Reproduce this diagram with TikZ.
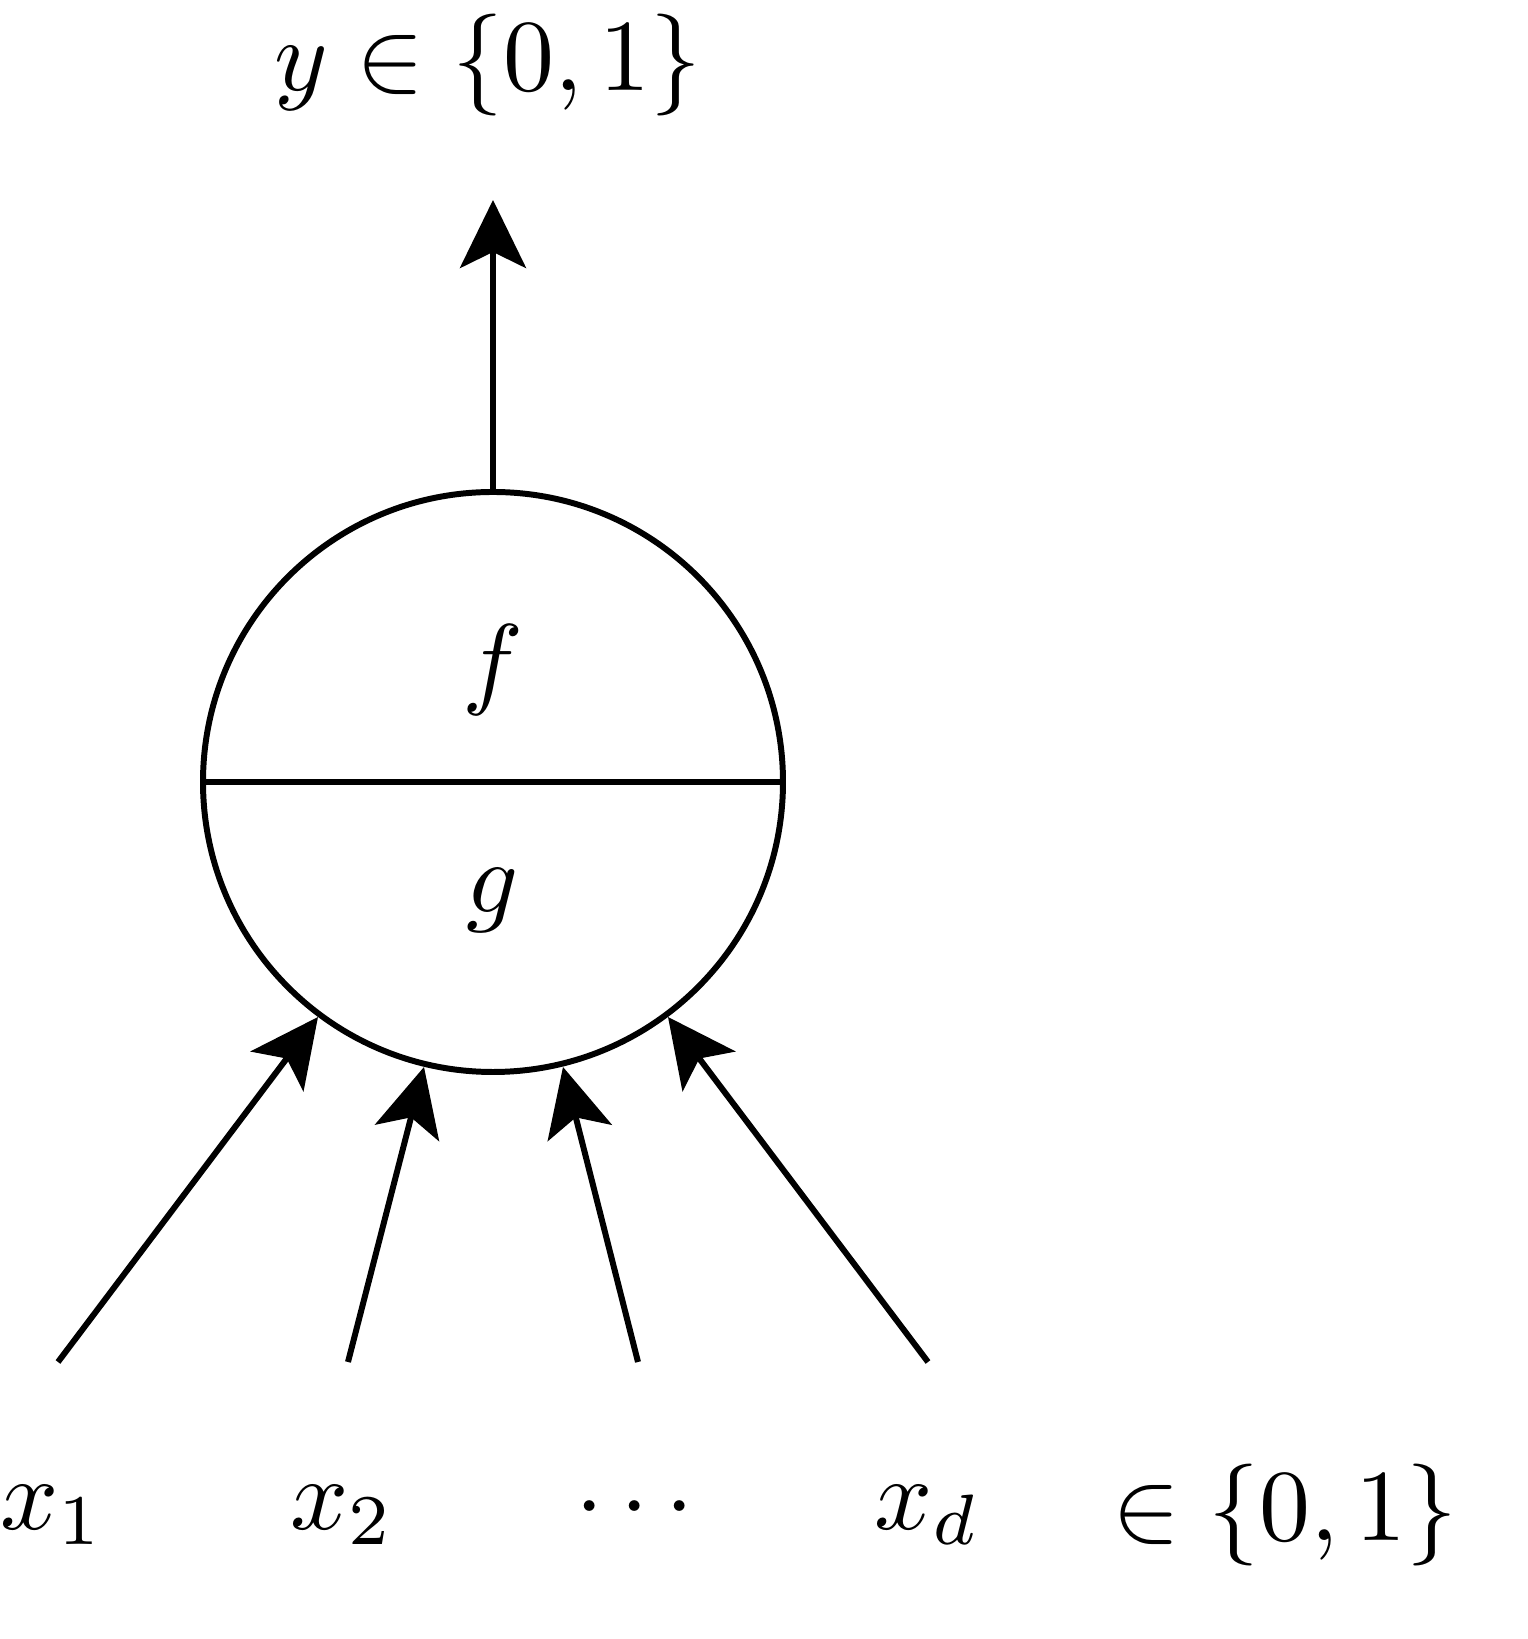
\documentclass[tikz,border=0pt]{standalone}
\usetikzlibrary{arrows.meta}
\begin{document}
\begin{tikzpicture}[line width=1.7pt,
  arr/.style={-{Stealth[length=6.8mm,width=6.6mm,inset=1.6mm]}},
  lbl/.style={scale=2.9}]
\useasboundingbox (0,0) rectangle (15.28,16.39);
\node[circle,draw,minimum size=5.8cm,inner sep=0pt] (c) at (4.93,8.57) {};
\draw (c.west) -- (c.east);
\node[lbl] (f) at (4.93,9.69) {$f$};
\node[lbl] (g) at (4.93,7.39) {$g$};
\node[lbl] (y) at (4.88,15.74) {$y\in\{0,1\}$};
\coordinate (yt) at (4.93,14.39);
\draw[arr] (c.north) -- (yt);
\coordinate (s1) at (0.58,2.77); \coordinate (t1) at (3.18,6.22);
\coordinate (s2) at (3.48,2.77); \coordinate (t2) at (4.24,5.72);
\coordinate (s3) at (6.38,2.77); \coordinate (t3) at (5.63,5.72);
\coordinate (s4) at (9.28,2.77); \coordinate (t4) at (6.68,6.22);
\foreach \i in {1,...,4} \draw[arr] (s\i) -- (t\i);
\node[lbl] (x1) at (0.52,1.24) {$x_1$};
\node[lbl] (x2) at (3.42,1.24) {$x_2$};
\node[lbl] (xx) at (6.35,1.30) {$\cdots$};
\node[lbl] (xd) at (9.27,1.24) {$x_d$};
\node[lbl] (in) at (12.85,1.24) {$\in\{0,1\}$};
\end{tikzpicture}
\end{document}
